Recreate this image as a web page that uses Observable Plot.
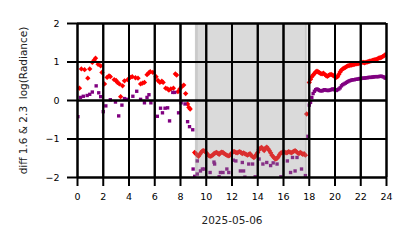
<!DOCTYPE html>
<html><head><meta charset="utf-8">
<script src="https://cdn.jsdelivr.net/npm/d3@7"></script>
<script src="https://cdn.jsdelivr.net/npm/@observablehq/plot@0.6"></script>
<style>body{margin:0;background:#fff;} svg{display:block;}</style>
</head><body><div id="chart"></div>
<script>
const xTicks = [0,2,4,6,8,10,12,14,16,18,20,22,24];
const yTicks = [-2,-1,0,1,2];
const xLabel = "2025-05-06";
const yLabel = "diff 1.6 & 2.3  log(Radiance)";
const nightSpan = [9.17, 17.84];

// morning (irregular samples)
const redMorningHours = [0.15,0.3,0.55,0.8,0.95,1.15,1.3,1.4,1.6,1.8,1.9,2.1,2.3,2.45,2.55,2.85,3.0,3.1,3.25,3.35,3.5,3.65,3.9,4.1,4.25,4.5,4.7,4.9,5.05,5.2,5.4,5.55,5.65,5.85,6.1,6.25,6.4,6.55,6.65,6.85,7.0,7.1,7.25,7.45,7.6,7.7,7.8,7.95,8.1,8.25,8.4,8.55,8.65,8.75];
const redMorningValues = [0.32,0.82,0.80,0.58,0.82,0.99,1.05,1.10,0.94,0.90,0.73,0.43,0.60,0.64,0.62,0.54,0.52,0.47,0.43,0.10,0.38,0.51,0.54,0.60,0.62,0.59,0.58,0.43,0.45,0.47,0.67,0.72,0.75,0.73,0.62,0.52,0.47,0.50,0.47,0.32,0.30,0.27,0.30,0.32,0.69,0.66,0.23,0.30,0.36,0.40,0.18,-0.09,-0.18,-0.22];
const purpleMorningHours = [0.03,0.23,0.45,0.75,0.95,1.15,1.45,1.65,1.8,2.0,2.2,2.55,2.95,3.2,3.45,3.65,3.9,4.3,4.6,4.9,5.2,5.4,5.55,5.7,6.2,6.45,6.6,6.8,7.0,7.15,7.4,7.55,7.85,8.05,8.35,8.55,8.7,8.95,8.98];
const purpleMorningValues = [-0.42,0.08,0.11,0.13,0.16,0.22,0.38,0.20,0.10,-0.29,-0.14,0.02,-0.04,-0.40,-0.12,0.05,0.03,0.11,0.24,0.03,-0.06,0.08,0.15,-0.06,-0.41,-0.20,-0.32,-0.20,-0.19,-0.53,0.21,0.21,-0.32,-0.06,-0.09,-0.55,-0.68,-0.76,-1.78];

// daytime (shaded) red, every 0.1 h from 9.1
const redDayStart = 9.1;
const redDayValues = [-1.35,-1.38,-1.42,-1.45,-1.40,
 -1.35,-1.31,-1.30,-1.32,-1.36,
 -1.40,-1.43,-1.45,-1.44,-1.42,
 -1.38,-1.36,-1.35,-1.37,-1.40,
 -1.36,-1.34,-1.35,-1.38,-1.40,
 -1.42,-1.44,-1.43,-1.40,-1.36,
 -1.33,-1.33,-1.35,-1.36,-1.34,
 -1.33,-1.35,-1.38,-1.36,-1.38,
 -1.40,-1.42,-1.40,-1.38,-1.43,
 -1.46,-1.48,-1.45,-1.40,-1.35,
 -1.28,-1.24,-1.22,-1.26,-1.30,
 -1.24,-1.21,-1.25,-1.30,-1.36,
 -1.42,-1.46,-1.50,-1.52,-1.50,
 -1.46,-1.40,-1.36,-1.35,-1.33,
 -1.34,-1.36,-1.35,-1.33,-1.34,
 -1.36,-1.34,-1.32,-1.30,-1.33,
 -1.36,-1.38,-1.35,-1.37,-1.40,
 -1.38,-1.42,-0.35];
const purpleDayHours = [9.1,9.3,9.3,9.55,9.7,9.85,10.0,10.3,10.6,10.65,11.0,11.1,11.3,11.6,11.75,12.1,12.3,12.65,12.8,12.9,13.0,13.3,13.6,13.8,14.1,14.4,14.7,15.0,15.2,15.5,15.8,16.3,16.55,16.7,16.9,17.05,17.4,17.7,17.89];
const purpleDayValues = [-1.97,-1.57,-1.91,-1.83,-1.78,-1.78,-2.0,-1.87,-1.60,-1.65,-1.98,-1.87,-1.87,-1.78,-1.87,-1.55,-1.57,-1.83,-1.61,-1.83,-1.99,-1.65,-1.65,-1.98,-1.52,-1.65,-1.61,-1.69,-1.62,-1.65,-1.98,-1.57,-1.87,-1.48,-1.83,-1.48,-1.78,-1.95,-0.93];

// evening, every 0.1 h from 18.0
const eveningStart = 18.0;
const redEveningValues = [0.47,0.55,0.62,0.66,0.70,0.74,0.76,0.74,0.72,0.70,
 0.69,0.71,0.68,0.65,0.63,0.65,0.67,0.68,0.66,0.64,
 0.62,0.60,0.62,0.68,0.74,0.79,0.82,0.84,0.86,0.88,
 0.90,0.91,0.92,0.92,0.93,0.94,0.95,0.95,0.96,0.97,
 0.98,0.99,0.99,0.98,0.99,1.00,1.01,1.02,1.03,1.04,
 1.05,1.06,1.07,1.08,1.10,1.11,1.12,1.14,1.16,1.19];
const purpleEveningValues = [-0.12,-0.05,0.08,0.18,0.24,0.28,0.30,0.28,0.26,0.25,
 0.25,0.27,0.28,0.27,0.26,0.26,0.27,0.28,0.30,0.29,
 0.27,0.26,0.28,0.30,0.33,0.38,0.41,0.43,0.45,0.47,
 0.49,0.51,0.52,0.53,0.54,0.54,0.55,0.55,0.56,0.57,
 0.57,0.58,0.58,0.58,0.59,0.59,0.60,0.60,0.60,0.61,
 0.61,0.62,0.62,0.62,0.62,0.63,0.63,0.62,0.61,0.58];

const pairs = (hs, vs) => hs.map((h, i) => ({h, v: vs[i]}));
const grid = (start, vs) => vs.map((v, i) => ({h: start + i * 0.1, v}));
const red = [...pairs(redMorningHours, redMorningValues), ...grid(redDayStart, redDayValues).map((d,i,a)=> i===a.length-1 ? {h:17.8, v:d.v} : d), ...grid(eveningStart, redEveningValues)];
const purple = [...pairs(purpleMorningHours, purpleMorningValues), ...pairs(purpleDayHours, purpleDayValues), ...grid(eveningStart, purpleEveningValues)];

const W = 414, H = 248, ML = 77, MR = 28, MT = 23, MB = 71;
const chart = Plot.plot({
  width: W, height: H,
  marginLeft: ML, marginRight: MR, marginTop: MT, marginBottom: MB,
  style: {fontFamily: "DejaVu Sans", fontSize: "9.5px", color: "black", background: "white"},
  x: {domain: [0, 24]},
  y: {domain: [-2, 2]},
  marks: [
    Plot.dot(red, {x: "h", y: "v", symbol: "diamond2", r: 2.4, fill: "#ff0000", clip: true}),
    Plot.dot(purple, {x: "h", y: "v", symbol: "square", r: 1.9, fill: "#800080", clip: true}),
    Plot.rect([nightSpan], {x1: d => d[0], x2: d => d[1], fill: "#8e8e8e", fillOpacity: 0.33}),
    Plot.ruleX([nightSpan[0] + 0.06, nightSpan[1] - 0.06], {stroke: "#8e8e8e", strokeOpacity: 0.2, strokeWidth: 3}),
    Plot.ruleX(xTicks, {stroke: "black", strokeWidth: 2}),
    Plot.ruleY(yTicks, {stroke: "black", strokeWidth: 2}),
    // grid lines drawn again as inward axis ticks
    Plot.axisX(xTicks, {tickSize: -(H - MT - MB), tickFormat: () => "", strokeWidth: 2, stroke: "black", label: null}),
    Plot.axisY(yTicks, {tickSize: -(W - ML - MR), tickFormat: () => "", strokeWidth: 2, stroke: "black", label: null}),
    Plot.axisX(xTicks, {tickSize: 9, tickPadding: 7, strokeWidth: 2, stroke: "black", label: null}),
    Plot.axisY(yTicks, {tickSize: 10, tickPadding: 8, strokeWidth: 2, stroke: "black", label: null}),
    Plot.text([xLabel], {frameAnchor: "bottom", dy: 46, fontSize: 10.5, fill: "#222"}),
    Plot.text([yLabel], {frameAnchor: "left", textAnchor: "middle", dx: -54, rotate: -90, fontSize: 10.5, fill: "#222"})
  ]
});
document.getElementById("chart").appendChild(chart);
</script></body></html>
